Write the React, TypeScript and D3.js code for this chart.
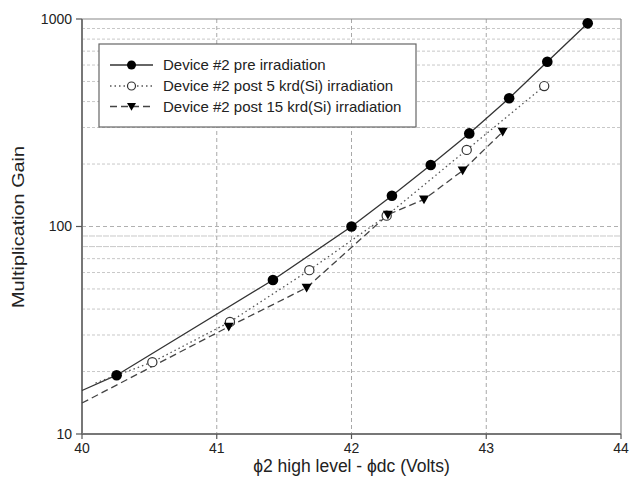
import React from "react";
import * as d3 from "d3";

const W = 631;
const H = 491;
const M = { left: 82, right: 10, top: 19, bottom: 57 };

// Data (volts, gain)
const preX = [40.257, 41.417, 42.0, 42.3, 42.588, 42.874, 43.17, 43.453, 43.753];
const preY = [19.2, 55.2, 100, 140.6, 198, 281, 415, 622, 953];
const preLineX = [40.0, 40.257, 41.417, 42.0, 42.3, 42.588, 42.874, 43.17, 43.453, 43.753];
const preLineY = [16.2, 19.2, 55.2, 100, 140.6, 198, 281, 415, 622, 953];

const post5X = [40.522, 41.098, 41.687, 42.261, 42.855, 43.43];
const post5Y = [22.2, 34.7, 61.6, 112.8, 234, 475];
const post5LineX = [40.1, 40.522, 41.098, 41.687, 42.261, 42.855, 43.43];
const post5LineY = [17.6, 22.2, 34.7, 61.6, 112.8, 234, 475];

const post15X = [41.089, 41.667, 42.27, 42.538, 42.825, 43.122];
const post15Y = [32.9, 50.7, 114, 135, 186, 286];
const post15LineX = [40.0, 41.089, 41.667, 42.27, 42.538, 42.825, 43.122];
const post15LineY = [14.1, 32.9, 50.7, 114, 135, 186, 286];

const xTicks = [40, 41, 42, 43, 44];
const yTicks = [10, 100, 1000];
const yMinor = [20, 30, 40, 50, 60, 70, 80, 90, 200, 300, 400, 500, 600, 700, 800, 900];

const legendLabels = [
  "Device #2 pre irradiation",
  "Device #2 post 5 krd(Si) irradiation",
  "Device #2 post 15 krd(Si) irradiation",
];

const FONT = "'Liberation Sans', Arial, sans-serif";

export default function App() {
  const x = d3.scaleLinear().domain([40, 44]).range([M.left, W - M.right]);
  const y = d3.scaleLog().domain([10, 1000]).range([H - M.bottom, M.top]);
  const line = d3
    .line<[number, number]>()
    .x((d) => x(d[0]))
    .y((d) => y(d[1]));
  const zip = (a: number[], b: number[]) => a.map((v, i) => [v, b[i]] as [number, number]);

  const tri = (cx: number, cy: number, s: number) =>
    `M${cx - s},${cy - s * 0.8}L${cx + s},${cy - s * 0.8}L${cx},${cy + s * 0.95}Z`;

  const x0 = x(40), x1 = x(44), yb = y(10), yt = y(1000);
  const lg = { x: 99, y: 44, w: 317, h: 83 };
  const rows = [65, 86, 106.5];

  return (
    <svg width={W} height={H} style={{ display: "block", position: "absolute", left: 0, top: 0 }} fontFamily={FONT}>
      <rect width={W} height={H} fill="#fff" />
      {/* grid */}
      {yMinor.map((v) => (
        <line key={"gm" + v} x1={x0} x2={x1} y1={y(v)} y2={y(v)} stroke="#c8c8c8" strokeWidth={1}
          strokeDasharray={v === 80 || v === 90 ? "6,1" : "3,2"} />
      ))}
      <line x1={x0} x2={x1} y1={y(100)} y2={y(100)} stroke="#b0b0b0" strokeDasharray="4,3" />
      {xTicks.slice(1, -1).map((v) => (
        <line key={"gx" + v} x1={x(v)} x2={x(v)} y1={yt} y2={yb} stroke="#a8a8a8" strokeDasharray="4,3" />
      ))}
      {/* frame */}
      <line x1={x0} x2={x1} y1={yt} y2={yt} stroke="#888" strokeWidth={1.2} />
      <line x1={x1} x2={x1} y1={yt} y2={yb} stroke="#888" strokeWidth={1.2} />
      <line x1={x0} x2={x0} y1={yt} y2={yb} stroke="#777" strokeWidth={2} />
      <line x1={x0} x2={x1} y1={yb} y2={yb} stroke="#777" strokeWidth={2} />
      {/* ticks */}
      {yTicks.map((v) => (
        <g key={"yt" + v}>
          <line x1={x0 - 6} x2={x0} y1={y(v)} y2={y(v)} stroke="#555" strokeWidth={1.2} />
          <text x={x0 - 10} y={y(v)} dy="0.35em" textAnchor="end" fontSize={14} fill="#222">{v}</text>
        </g>
      ))}
      {xTicks.map((v) => (
        <g key={"xt" + v}>
          <line x1={x(v)} x2={x(v)} y1={yb} y2={yb + 5} stroke="#555" strokeWidth={1.2} />
          <text x={x(v)} y={yb + 19} textAnchor="middle" fontSize={14} fill="#222">{v}</text>
        </g>
      ))}
      {/* axis titles */}
      <text x={(x0 + x1) / 2} y={472} textAnchor="middle" fontSize={17.5} fill="#222">ϕ2 high level - ϕdc (Volts)</text>
      <text transform={`translate(24,227) rotate(-90)`} textAnchor="middle" fontSize={17} fill="#222"
        textLength={162} lengthAdjust="spacingAndGlyphs">Multiplication Gain</text>
      {/* lines */}
      <path d={line(zip(preLineX, preLineY)) || ""} fill="none" stroke="#333" strokeWidth={1.3} />
      <path d={line(zip(post5LineX, post5LineY)) || ""} fill="none" stroke="#555" strokeWidth={1.3} strokeDasharray="1.5,3" />
      <path d={line(zip(post15LineX, post15LineY)) || ""} fill="none" stroke="#444" strokeWidth={1.3} strokeDasharray="7,4" />
      {/* markers */}
      {preX.map((v, i) => (
        <circle key={"p" + i} cx={x(v)} cy={y(preY[i])} r={5.3} fill="#000" />
      ))}
      {post5X.map((v, i) => (
        <circle key={"o" + i} cx={x(v)} cy={y(post5Y[i])} r={4.6} fill="#fff" stroke="#333" strokeWidth={1.2} />
      ))}
      {post15X.map((v, i) => (
        <path key={"t" + i} d={tri(x(v), y(post15Y[i]), 5)} fill="#000" />
      ))}
      {/* legend */}
      <rect x={lg.x} y={lg.y} width={lg.w} height={lg.h} fill="#fff" stroke="#666" strokeWidth={1.2} />
      <line x1={110} x2={153} y1={rows[0]} y2={rows[0]} stroke="#333" strokeWidth={1.3} />
      <circle cx={131.5} cy={rows[0]} r={4.5} fill="#000" />
      <line x1={110} x2={153} y1={rows[1]} y2={rows[1]} stroke="#555" strokeWidth={1.3} strokeDasharray="1.5,3" />
      <circle cx={131.5} cy={rows[1]} r={4} fill="#fff" stroke="#333" strokeWidth={1.2} />
      <line x1={110} x2={153} y1={rows[2]} y2={rows[2]} stroke="#444" strokeWidth={1.3} strokeDasharray="7,4" />
      <path d={tri(131.5, rows[2], 4.5)} fill="#000" />
      {legendLabels.map((t, i) => (
        <text key={t} x={163} y={rows[i]} dy="0.36em" fontSize={15} fill="#222">{t}</text>
      ))}
    </svg>
  );
}
